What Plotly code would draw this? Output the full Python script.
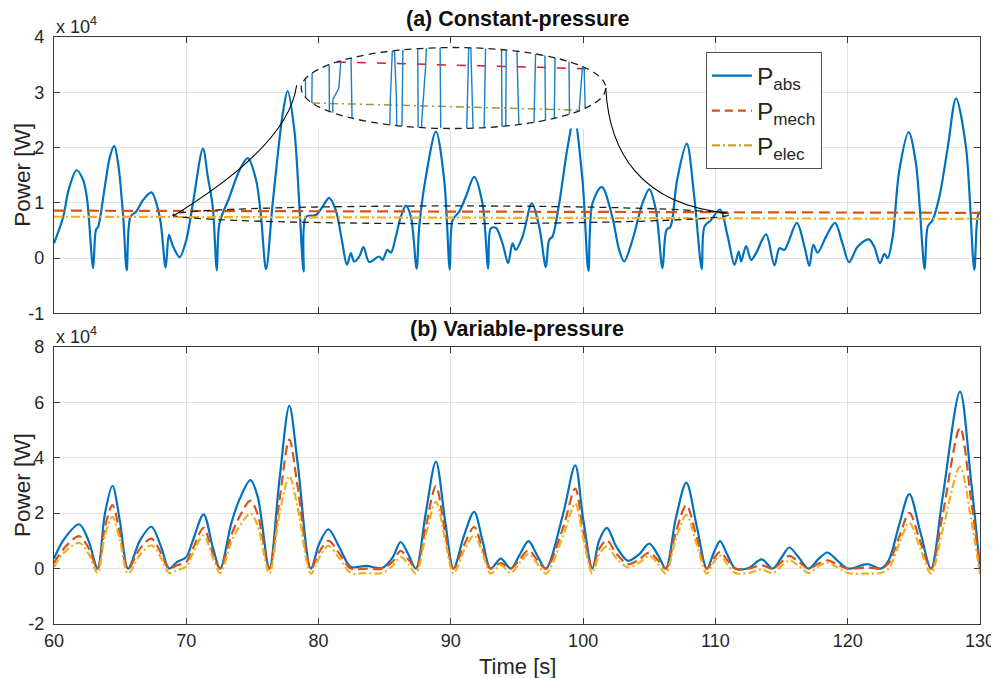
import numpy as np
import plotly.graph_objects as go

# ---------------- data (time in s, power in units of 1e4 W) ----------------
# (a) constant-pressure
t_a = [60.0, 60.7, 61.1, 61.7, 62.21, 62.51, 62.96, 63.17, 63.34, 63.84, 64.22, 64.55, 64.85, 65.23,
       65.5, 65.78, 66.2, 66.73, 67.36, 67.99, 68.44, 68.69, 69.0, 69.5, 70.0, 70.5, 71.26, 71.63,
       72.0, 72.31, 72.51, 73.27, 74.02, 74.65, 75.28, 75.65, 76.03, 76.53, 77.29, 77.66, 78.17,
       78.54, 78.87, 79.05, 79.8, 80.3, 80.8, 81.3, 81.8, 82.14, 82.44, 82.69, 83.07, 83.4, 83.83,
       84.58, 84.84, 85.21, 85.47, 85.84, 86.22, 86.6, 86.98, 87.41, 87.61, 88.11, 88.87, 89.5,
       89.92, 90.13, 90.63, 91.13, 91.76, 92.39, 92.82, 93.02, 93.4, 93.9, 94.33, 94.66, 94.91,
       95.42, 96.12, 96.68, 97.18, 97.43, 97.68, 98.19, 98.82, 99.32, 99.95, 100.4, 100.7, 101.41,
       102.2, 102.72, 103.1, 103.73, 104.48, 105.0, 105.5, 106.0, 106.3, 106.6, 107.1, 107.83,
       108.4, 108.97, 109.17, 109.67, 110.35, 110.93, 111.44, 111.76, 111.94, 112.32, 112.7,
       113.07, 113.83, 114.46, 114.84, 115.21, 116.15, 116.73, 117.1, 117.4, 117.73, 118.36,
       119.04, 119.6, 120.1, 120.76, 121.59, 122.0, 122.44, 122.77, 123.02, 123.4, 123.9, 124.61,
       125.16, 125.82, 126.05, 126.42, 126.93, 127.56, 128.19, 128.94, 129.57, 129.82, 130.0]
p_abs_a = [0.27, 0.75, 1.23, 1.59, 1.41, 1.05, -0.18, 0.51, 0.57, 1.29, 1.83, 2.03, 1.71, 0.75,
           -0.22, 0.75, 0.84, 1.05, 1.19, 0.75, -0.17, 0.42, 0.21, 0.02, 0.33, 0.99, 1.98, 1.47,
           0.93, -0.22, 0.63, 1.11, 1.59, 1.81, 1.41, 0.75, -0.20, 0.99, 2.61, 3.02, 2.31,
           0.99, -0.24, 0.75, 0.78, 0.93, 1.09, 0.87, 0.27, -0.12, 0.09, -0.06, 0.03, 0.20, -0.07,
           0.03, -0.03, 0.15, 0.10, 0.39, 0.75, 0.95, 0.75, -0.19, 0.57, 1.47, 2.29, 1.41,
           -0.21, 0.69, 0.84, 1.11, 1.47, 0.99, -0.19, 0.54, 0.55, 0.27, -0.09, 0.27, 0.15,
           0.39, 0.99, 0.57, -0.16, 0.33, 0.39, 0.99, 2.00, 2.54, 1.41, -0.23, 0.99, 1.29,
           0.75, 0.15, -0.06, 0.33, 0.99, 1.25, 0.87, -0.18, 0.51, 0.57, 1.41, 2.07,
           1.11, -0.20, 0.57, 0.69, 0.88, 0.39, -0.12, 0.12, -0.06, 0.22, -0.03,
           0.09, 0.43, -0.13, 0.18, 0.15, 0.64, 0.21, -0.14, 0.24, 0.10, 0.39,
           0.64, 0.27, -0.07, 0.21, 0.34, 0.21, -0.09, 0.08, 0.00, 0.39, 1.59, 2.28,
           1.71, -0.20, 0.57, 0.69, 1.11, 2.00, 2.89, 2.01, -0.21, 0.75, 0.84]
t_line_a = [60, 130]
p_mech_a = [0.86, 0.82]
p_elec_a = [0.75, 0.71]

# (b) variable-pressure
t_b = [60, 60.7, 61.9, 62.6, 63.3, 63.85, 64.42, 64.97, 65.6, 66.5, 67.36, 68.1, 68.7, 69.3, 70.0,
       70.5, 71.31, 72.0, 72.56, 73.4, 74.0, 74.85, 75.4, 76.28, 77.04, 77.79, 78.42, 79.42, 80.05,
       80.75, 81.56, 82.44, 83.6, 84.8, 85.6, 86.2, 86.8, 87.36, 88.1, 88.87, 89.6, 90.2, 91.0,
       91.76, 92.4, 93.0, 93.78, 94.53, 95.2, 95.87, 96.5, 97.18, 98.5, 99.4, 100.0, 100.7, 101.2,
       101.8, 102.5, 103.4, 104.2, 105.0, 105.7, 106.25, 107.0, 107.8, 108.6, 109.35, 109.9,
       110.35, 110.9, 111.5, 112.5, 113.5, 114.33, 115.0, 115.58, 116.3, 117.04, 117.8, 118.47,
       119.2, 120.0, 121.5, 122.5, 123.1, 123.9, 124.66, 125.5, 126.3, 127.18, 128.49, 129.32, 130]
p_abs_b = [0.36, 1.02, 1.60, 1.02, 0.0, 1.99, 2.99, 1.75, 0.0, 1.02, 1.51, 0.78, 0.0, 0.24, 0.42,
           1.02, 1.96, 0.78, 0.0, 1.63, 2.47, 3.19, 2.59, 0.0, 3.19, 5.87, 3.80, 0.0, 0.90,
           1.42, 0.78, 0.06, 0.10, 0.02, 0.40, 0.96, 0.50, 0.0, 2.00, 3.86, 1.60, 0.0, 1.20,
           2.05, 1.00, 0.0, 0.36, 0.0, 0.50, 0.99, 0.50, 0.0, 2.00, 3.73, 1.80, 0.0, 1.00,
           1.47, 0.80, 0.28, 0.50, 0.90, 0.45, 0.0, 1.80, 3.10, 1.50, 0.0, 0.60,
           0.99, 0.50, 0.0, 0.02, 0.33, 0.0, 0.40, 0.76, 0.40, 0.0, 0.35, 0.58,
           0.30, 0.0, 0.16, 0.0, 0.30, 1.60, 2.69, 1.30, 0.0, 2.59, 6.39, 3.19, 0.0]
p_mech_b = [0.20, 0.70, 1.17, 0.75, 0.0, 1.50, 2.29, 1.30, 0.0, 0.72, 1.08, 0.55, 0.0, 0.12, 0.24,
            0.72, 1.47, 0.55, 0.0, 1.20, 1.85, 2.45, 1.95, 0.0, 2.45, 4.66, 2.95, 0.0, 0.60,
            1.00, 0.55, 0.0, 0.0, 0.0, 0.25, 0.64, 0.33, 0.0, 1.50, 2.98, 1.20, 0.0, 0.85,
            1.50, 0.70, 0.0, 0.20, 0.0, 0.33, 0.66, 0.33, 0.0, 1.50, 2.89, 1.35, 0.0, 0.70,
            1.02, 0.55, 0.16, 0.32, 0.58, 0.28, 0.0, 1.30, 2.29, 1.10, 0.0, 0.38,
            0.60, 0.30, 0.0, 0.0, 0.12, 0.0, 0.24, 0.46, 0.24, 0.0, 0.18, 0.30,
            0.15, 0.0, 0.04, 0.0, 0.20, 1.15, 2.01, 0.95, 0.0, 1.95, 5.08, 2.50, 0.0]
p_elec_b = [0.06, 0.55, 0.93, 0.55, -0.16, 1.20, 1.87, 1.05, -0.18, 0.50, 0.84, 0.38, -0.16, -0.05, 0.06,
            0.55, 1.20, 0.40, -0.16, 0.95, 1.50, 1.99, 1.55, -0.18, 1.95, 3.34, 2.20, -0.18, 0.40,
            0.82, 0.38, -0.16, -0.16, -0.16, 0.10, 0.42, 0.15, -0.18, 1.20, 2.41, 0.95, -0.18, 0.65,
            1.20, 0.55, -0.18, 0.12, -0.16, 0.20, 0.52, 0.20, -0.18, 1.20, 2.35, 1.10, -0.18, 0.50,
            0.80, 0.38, 0.04, 0.20, 0.46, 0.15, -0.18, 1.05, 1.93, 0.85, -0.18, 0.25,
            0.46, 0.15, -0.16, -0.16, -0.04, -0.16, 0.10, 0.30, 0.10, -0.16, 0.08, 0.22,
            0.05, -0.16, -0.18, -0.16, 0.0, 0.90, 1.65, 0.70, -0.18, 1.40, 3.67, 1.80, -0.20]

x_ticks = [60, 70, 80, 90, 100, 110, 120, 130]
y_ticks_a = [-1, 0, 1, 2, 3, 4]
y_ticks_b = [-2, 0, 2, 4, 6, 8]

# zoom annotation geometry (in panel (a) data units)
src_t = [68.98, 111.0]     # small (source) ellipse
src_p = [0.625, 0.945]
box_t = [78.69, 101.71]    # large ellipse holding the magnified view
box_p = [2.345, 3.81]
inset_t = [75.1, 113.1]    # window shown in the magnified view
inset_p = [0.673, 0.887]
conn_left = [(68.98, 0.759), (72.15, 1.229), (77.81, 2.133), (78.34, 3.127)]
conn_right = [(101.71, 3.073), (101.96, 1.952), (104.23, 0.958), (111.02, 0.813)]

C_ABS, C_MECH, C_ELEC = "#0072BD", "#D95319", "#EDB120"
FONT = "Liberation Sans, Arial, sans-serif"
AX = "#3a3a3a"
TXT = "#262626"

# ---------------- layout geometry (page body adds an 8px offset) ----------------
W, H = 999, 678
ML, MR, MT, MB = 46, 25, 29, 62
dom_a = [0.529, 1.0]
dom_b = [0.0, 0.472]


def pap_x(t):
    return (t - 60) / 70.0


def pap_y_a(p):
    return dom_a[0] + (p + 1) / 5.0 * (dom_a[1] - dom_a[0])


def clip_ellipse(xs, ys, xr, yr):
    cx, cy = (xr[0] + xr[1]) / 2, (yr[0] + yr[1]) / 2
    ax, ay = (xr[1] - xr[0]) / 2, (yr[1] - yr[0]) / 2
    ox, oy = [], []
    open_seg = False
    for i in range(len(xs) - 1):
        u0, w0 = (xs[i] - cx) / ax, (ys[i] - cy) / ay
        u1, w1 = (xs[i + 1] - cx) / ax, (ys[i + 1] - cy) / ay
        du, dw = u1 - u0, w1 - w0
        A = du * du + dw * dw
        B = 2 * (u0 * du + w0 * dw)
        Cc = u0 * u0 + w0 * w0 - 1
        disc = B * B - 4 * A * Cc
        if A == 0 or disc <= 0:
            if open_seg:
                ox.append(None); oy.append(None); open_seg = False
            continue
        sq = np.sqrt(disc)
        s0, s1 = max((-B - sq) / (2 * A), 0.0), min((-B + sq) / (2 * A), 1.0)
        if s0 >= s1:
            if open_seg:
                ox.append(None); oy.append(None); open_seg = False
            continue
        if not open_seg or s0 > 0:
            if open_seg:
                ox.append(None); oy.append(None)
            ox.append(cx + ax * (u0 + s0 * du)); oy.append(cy + ay * (w0 + s0 * dw))
        ox.append(cx + ax * (u0 + s1 * du)); oy.append(cy + ay * (w0 + s1 * dw))
        open_seg = s1 >= 1.0
        if not open_seg:
            ox.append(None); oy.append(None)
    return ox, oy


fig = go.Figure()

# panel (a)
fig.add_trace(go.Scatter(x=t_a, y=p_abs_a, mode="lines", line=dict(color=C_ABS, width=2.2, shape="spline", smoothing=0.9),
                         showlegend=False, xaxis="x", yaxis="y"))
fig.add_trace(go.Scatter(x=t_line_a, y=p_mech_a, mode="lines", line=dict(color=C_MECH, width=2.2, dash="11px,6px"),
                         showlegend=False, xaxis="x", yaxis="y"))
fig.add_trace(go.Scatter(x=t_line_a, y=p_elec_a, mode="lines", line=dict(color=C_ELEC, width=2.2, dash="9px,3px,2px,3px"),
                         showlegend=False, xaxis="x", yaxis="y"))

# legend entries
for name, col, dash, grp in [("P<sub>abs</sub>", C_ABS, "solid", "g1"),
                             ("P<sub>mech</sub>", C_MECH, "8px,5px", "g2"),
                             ("P<sub>elec</sub>", "#C4A232", "8px,3px,2px,3px", "g3")]:
    fig.add_trace(go.Scatter(x=[None], y=[None], mode="lines", name=name, legendgroup=grp,
                             line=dict(color=col, width=2.2, dash=dash), xaxis="x", yaxis="y"))

# panel (b)
fig.add_trace(go.Scatter(x=t_b, y=p_abs_b, mode="lines", line=dict(color=C_ABS, width=2.2, shape="spline", smoothing=0.9),
                         showlegend=False, xaxis="x2", yaxis="y2"))
fig.add_trace(go.Scatter(x=t_b, y=p_mech_b, mode="lines", line=dict(color=C_MECH, width=2.2, dash="10px,5px", shape="spline", smoothing=0.9),
                         showlegend=False, xaxis="x2", yaxis="y2"))
fig.add_trace(go.Scatter(x=t_b, y=p_elec_b, mode="lines", line=dict(color=C_ELEC, width=2.2, dash="8px,3px,2px,3px", shape="spline", smoothing=0.9),
                         showlegend=False, xaxis="x2", yaxis="y2"))

# magnified view (inset axes x3/y3 placed over the large ellipse)
th = np.linspace(0, 2 * np.pi, 181)
icx, icy = (inset_t[0] + inset_t[1]) / 2, (inset_p[0] + inset_p[1]) / 2
iax, iay = (inset_t[1] - inset_t[0]) / 2, (inset_p[1] - inset_p[0]) / 2
fig.add_trace(go.Scatter(x=icx + iax * np.cos(th), y=icy + iay * np.sin(th), mode="lines", fill="toself",
                         fillcolor="white", line=dict(width=0, color="white"), showlegend=False,
                         hoverinfo="skip", xaxis="x3", yaxis="y3"))
cx_, cy_ = clip_ellipse(t_line_a, p_mech_a, inset_t, inset_p)
fig.add_trace(go.Scatter(x=cx_, y=cy_, mode="lines", line=dict(color="#E8161B", width=1.5, dash="9px,11px"),
                         showlegend=False, xaxis="x3", yaxis="y3"))
cx_, cy_ = clip_ellipse(t_line_a, p_elec_a, inset_t, inset_p)
fig.add_trace(go.Scatter(x=cx_, y=cy_, mode="lines", line=dict(color="#A8942E", width=1.5, dash="8px,4px,2px,4px"),
                         showlegend=False, xaxis="x3", yaxis="y3"))
cx_, cy_ = clip_ellipse(t_a, p_abs_a, inset_t, inset_p)
fig.add_trace(go.Scatter(x=cx_, y=cy_, mode="lines", line=dict(color="#1a7fc4", width=1.4),
                         showlegend=False, xaxis="x3", yaxis="y3"))

tickfont = dict(family=FONT, size=18, color=TXT)
axis_common = dict(range=[60, 130], tickvals=x_ticks, ticks="inside", ticklen=6, tickcolor=AX,
                   showline=True, linecolor=AX, linewidth=1.2, mirror="ticks", showgrid=True,
                   gridcolor="#e2e2e2", gridwidth=1, zeroline=False, tickfont=tickfont)
yaxis_common = dict(ticks="inside", ticklen=6, tickcolor=AX, showline=True, linecolor=AX, linewidth=1.2,
                    mirror="ticks", showgrid=True, gridcolor="#e2e2e2", zeroline=False,
                    ticklabelstandoff=5, tickfont=tickfont)

inset_dom_x = [pap_x(box_t[0]), pap_x(box_t[1])]
inset_dom_y = [pap_y_a(box_p[0]), pap_y_a(box_p[1])]

fig.update_layout(
    width=W, height=H, margin=dict(l=ML, r=MR, t=MT, b=MB),
    paper_bgcolor="white", plot_bgcolor="white",
    font=dict(family=FONT, color=TXT),
    xaxis=dict(**axis_common, domain=[0, 1], anchor="y", showticklabels=False),
    yaxis=dict(**yaxis_common, range=[-1, 4], domain=dom_a, anchor="x", tickvals=y_ticks_a,
               ticktext=[str(v) for v in y_ticks_a]),
    xaxis2=dict(**axis_common, domain=[0, 1], anchor="y2", ticklabelstandoff=0),
    yaxis2=dict(**yaxis_common, range=[-2, 8], domain=dom_b, anchor="x2", tickvals=y_ticks_b,
                ticktext=[str(v) for v in y_ticks_b]),
    xaxis3=dict(range=inset_t, domain=inset_dom_x, anchor="y3", visible=False),
    yaxis3=dict(range=inset_p, domain=inset_dom_y, anchor="x3", visible=False),
    legend=dict(x=0.704, y=0.974, xanchor="left", yanchor="top", bgcolor="white",
                bordercolor="#505050", borderwidth=1, font=dict(family=FONT, size=24.5, color=TXT),
                tracegroupgap=0, itemwidth=40),
    showlegend=True,
)

# zoom decorations
def bez(pts):
    (a, b), (c, d), (e, f), (g, h) = pts
    return f"M {a},{b} C {c},{d} {e},{f} {g},{h}"

fig.add_shape(type="circle", xref="x", yref="y", x0=src_t[0], x1=src_t[1], y0=src_p[0], y1=src_p[1],
              line=dict(color="#202020", width=1.3, dash="7px,5px"), layer="above")
fig.add_shape(type="circle", xref="x", yref="y", x0=box_t[0], x1=box_t[1], y0=box_p[0], y1=box_p[1],
              line=dict(color="#202020", width=1.3, dash="7px,5px"), layer="above")
fig.add_shape(type="path", xref="x", yref="y", path=bez(conn_left), line=dict(color="black", width=1.1), layer="above")
fig.add_shape(type="path", xref="x", yref="y", path=bez(conn_right), line=dict(color="black", width=1.1), layer="above")

ann = []
ann.append(dict(text="<b>(a) Constant-pressure</b>", x=0.5, y=1.0, xref="paper", yref="paper", xanchor="center",
                yanchor="bottom", yshift=4, showarrow=False, font=dict(size=21.5, family=FONT, color="#111")))
ann.append(dict(text="<b>(b) Variable-pressure</b>", x=0.5, y=dom_b[1], xref="paper", yref="paper", xanchor="center",
                yanchor="bottom", yshift=4, showarrow=False, font=dict(size=21.5, family=FONT, color="#111")))
for dom in (dom_a, dom_b):
    ann.append(dict(text="x 10<sup>4</sup>", x=0.0, y=dom[1], xref="paper", yref="paper", xanchor="left",
                    yanchor="bottom", yshift=-2, showarrow=False, font=dict(size=18, family=FONT, color=TXT)))
    ann.append(dict(text="Power [W]", x=-0.034, y=(dom[0] + dom[1]) / 2, xref="paper", yref="paper",
                    xanchor="center", yanchor="middle", textangle=-90, showarrow=False,
                    font=dict(size=22.5, family=FONT, color=TXT)))
ann.append(dict(text="Time [s]", x=0.5, y=0.0, xref="paper", yref="paper", xanchor="center", yanchor="top",
                yshift=-28, showarrow=False, font=dict(size=22, family=FONT, color=TXT)))
fig.update_layout(annotations=ann)

fig.write_html("out.html")
